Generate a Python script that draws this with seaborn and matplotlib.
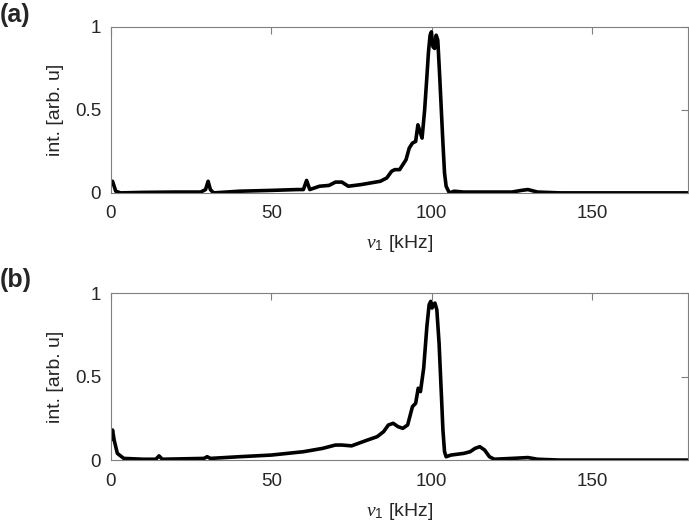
import matplotlib
matplotlib.use("Agg")
import matplotlib.pyplot as plt
import seaborn as sns
import pandas as pd

# ---- data ----
freq_a = [0, 0.5, 1.5, 3, 10, 20, 28, 29.5, 30.3, 31, 32, 40, 50, 58, 60, 61, 62, 65, 68, 70, 72,
          74, 78, 84, 86, 87.5, 88.5, 90, 91, 92, 93, 94, 95, 95.7, 96.5, 97, 97.8, 98.5, 99,
          99.5, 99.9, 100.4, 100.9, 101.4, 101.9, 102.5, 103, 103.5, 104, 104.5, 105.5, 107,
          110, 125, 128, 130, 133, 140, 180]
int_a = [0.05, 0.07, 0.01, 0.0, 0.003, 0.005, 0.005, 0.02, 0.07, 0.02, 0.0, 0.01, 0.015, 0.02,
         0.02, 0.075, 0.02, 0.04, 0.045, 0.065, 0.065, 0.04, 0.05, 0.07, 0.09, 0.13, 0.14, 0.14,
         0.17, 0.2, 0.27, 0.3, 0.31, 0.41, 0.36, 0.33, 0.5, 0.7, 0.85, 0.95, 0.97, 0.88, 0.87,
         0.95, 0.92, 0.7, 0.5, 0.3, 0.12, 0.04, 0.0, 0.01, 0.005, 0.005, 0.015, 0.02, 0.005,
         0.0, 0.0]

freq_b = [0, 0.5, 1, 2, 4, 10, 14, 15, 16, 29, 30, 31, 40, 50, 60, 66, 70, 72, 75, 80, 83, 85,
          86.5, 88, 89.5, 91, 92.5, 94, 95, 95.8, 96.5, 97.5, 98.5, 99.2, 99.7, 100.1, 100.5,
          101, 101.6, 102.3, 103, 103.5, 104, 104.5, 106, 110, 112, 113.5, 115, 116.5, 118,
          119.5, 125, 130, 133, 140, 180]
int_b = [0.12, 0.18, 0.12, 0.04, 0.01, 0.005, 0.005, 0.025, 0.005, 0.01, 0.02, 0.01, 0.02, 0.03,
         0.05, 0.07, 0.09, 0.09, 0.085, 0.12, 0.14, 0.17, 0.21, 0.22, 0.2, 0.19, 0.21, 0.32,
         0.34, 0.43, 0.41, 0.55, 0.8, 0.93, 0.95, 0.91, 0.93, 0.94, 0.9, 0.7, 0.4, 0.18, 0.05,
         0.02, 0.03, 0.04, 0.05, 0.07, 0.08, 0.06, 0.02, 0.005, 0.01, 0.015, 0.005, 0.0, 0.0]

panel_labels = ["(a)", "(b)"]
x_ticks = [0, 50, 100, 150]
y_ticks = [0, 0.5, 1]
y_tick_labels = ["0", "0.5", "1"]
x_label = r"$\nu_1$ [kHz]"
y_label = "int. [arb. u]"

sns.set_style("white")
plt.rcParams["font.family"] = ["Liberation Sans", "DejaVu Sans"]
plt.rcParams["mathtext.fontset"] = "custom"
plt.rcParams["mathtext.it"] = "Liberation Serif:italic"
plt.rcParams["mathtext.rm"] = "Liberation Sans"

fig = plt.figure(figsize=(6.89, 5.27), dpi=100)
rects = [[0.161, 0.634, 0.838, 0.315], [0.161, 0.127, 0.838, 0.317]]
datasets = [(freq_a, int_a), (freq_b, int_b)]
label_y = [0.972, 0.468]

for rect, (fx, iy), lab, ly in zip(rects, datasets, panel_labels, label_y):
    ax = fig.add_axes(rect)
    df = pd.DataFrame({"freq": fx, "int": iy})
    sns.lineplot(data=df, x="freq", y="int", ax=ax, color="black", linewidth=2.6,
                 sort=False, estimator=None)
    ax.set_xlim(0, 180)
    ax.set_ylim(0, 1)
    ax.set_xticks(x_ticks)
    ax.set_xticklabels([str(t) for t in x_ticks])
    ax.set_yticks(y_ticks)
    ax.set_yticklabels(y_tick_labels)
    ax.tick_params(direction="in", length=5, width=0.8, color="#7f7f7f",
                   top=True, right=True, labelsize=13.5, labelcolor="#262626")
    ax.tick_params(axis="x", pad=9)
    ax.tick_params(axis="y", pad=7)
    for sp in ax.spines.values():
        sp.set_visible(True)
        sp.set_color("#7f7f7f")
        sp.set_linewidth(0.8)
    ax.set_xlabel(x_label, fontsize=14, color="#262626", labelpad=8)
    ax.set_ylabel(y_label, fontsize=14, color="#262626", labelpad=8)
    fig.text(0.0, ly, lab, fontsize=18, fontweight="bold", ha="left", va="center")

fig.savefig("out.png", dpi=100)
